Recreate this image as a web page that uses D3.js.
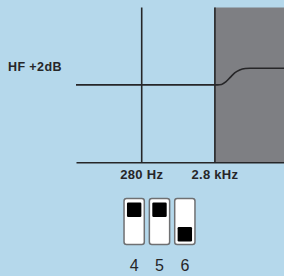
<!DOCTYPE html>
<html><head><meta charset="utf-8">
<script src="https://cdn.jsdelivr.net/npm/d3@7"></script>
<style>html,body{margin:0;padding:0;background:#b5d8eb;}svg{display:block;}</style>
</head><body>
<svg id="c" width="284" height="276"></svg>
<script>
// Data
const tickFreqs = [280, 2800];
const tickLabels = ["280 Hz", "2.8 kHz"];
const shadeFrom = [2800];
const curveFreqs = [36, 3100, 3500, 4000, 4600, 5300, 6200, 7400, 8600, 25000];
const curveDb   = [0,   0,    0.05, 0.35, 0.9,  1.45, 1.8,  1.97, 2,    2];
const gainLabel = ["HF +2dB"];
const gainDb = [2];
const switchLabels = ["4", "5", "6"];
const switchUp = [true, true, false];

(function () {
const svg = d3.select("#c");
const x = d3.scaleLog().domain([36, 25000]).range([76, 284]);
const y = d3.scaleLinear().domain([-9.3, 9.3]).range([162.3, 7.5]);
const ink = "#262628";

// shaded region
svg.append("g").selectAll("rect").data(shadeFrom).join("rect")
  .attr("x", d => x(d)).attr("y", y(9.3))
  .attr("width", d => x(25000) - x(d)).attr("height", y(-9.3) - y(9.3))
  .attr("fill", "#7e7f83");

// axis with full-height tick lines
const ax = svg.append("g").attr("transform", `translate(0,${y(-9.3)})`)
  .call(d3.axisBottom(x).tickValues(tickFreqs)
    .tickSizeInner(-(y(-9.3) - y(9.3))).tickSizeOuter(0)
    .tickFormat((d, i) => tickLabels[i]));
ax.select(".domain").attr("stroke", ink).attr("stroke-width", 1.6);
ax.selectAll(".tick line").attr("stroke", ink).attr("stroke-width", 1.6);
ax.selectAll(".tick text").attr("y", 16.7).attr("dy", 0)
  .attr("font-family", "Liberation Sans, Arial, sans-serif")
  .attr("font-weight", "bold").attr("font-size", 13)
  .attr("letter-spacing", 0.3).attr("fill", ink);

// response curve
const pts = curveFreqs.map((f, i) => [f, curveDb[i]]);
svg.append("path").datum(pts)
  .attr("d", d3.line().x(d => x(d[0])).y(d => y(d[1])).curve(d3.curveMonotoneX))
  .attr("fill", "none").attr("stroke", ink).attr("stroke-width", 1.6);

// gain label
svg.append("g").selectAll("text").data(gainLabel).join("text")
  .attr("x", 8).attr("y", (d, i) => y(gainDb[i]) + 2.6)
  .attr("font-family", "Liberation Sans, Arial, sans-serif")
  .attr("font-weight", "bold").attr("font-size", 12.5)
  .attr("letter-spacing", 0.4).attr("fill", ink).text(d => d);

// DIP switches
const sx = d3.scaleBand().domain(switchLabels).range([121.5, 197.5]).paddingInner(0.2).paddingOuter(0.1);
const sTop = 198.5, h = 46, knob = 14.4;
const sw = svg.append("g").selectAll("g").data(switchLabels).join("g");
sw.append("rect").attr("x", d => sx(d)).attr("y", sTop)
  .attr("width", sx.bandwidth()).attr("height", h).attr("rx", 2.5)
  .attr("fill", "#ffffff").attr("stroke", "#6f7072").attr("stroke-width", 1.5);
sw.append("rect")
  .attr("x", d => sx(d) + (sx.bandwidth() - knob) / 2)
  .attr("y", (d, i) => switchUp[i] ? sTop + 4 : sTop + h - 3 - knob)
  .attr("width", knob).attr("height", knob).attr("rx", 1.2).attr("fill", "#000");
sw.append("text").attr("x", d => sx(d) + sx.bandwidth() / 2).attr("y", 270.7)
  .attr("text-anchor", "middle")
  .attr("font-family", "Liberation Sans, Arial, sans-serif")
  .attr("font-size", 16).attr("fill", ink).text(d => d);
})();
</script>
</body></html>
